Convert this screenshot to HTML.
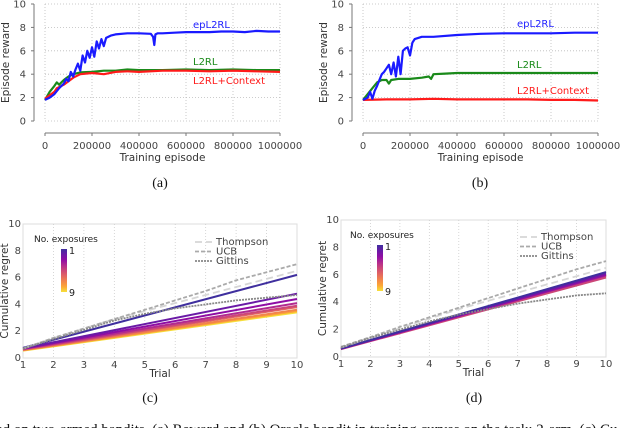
<!DOCTYPE html>
<html><head><meta charset="utf-8">
<style>
body{margin:0;background:#fff;width:640px;height:428px;overflow:hidden}
svg{display:block;font-family:"DejaVu Sans","Liberation Sans",sans-serif}
.tk{font-size:10px;fill:#444}
.lab{font-size:10.5px;fill:#333}
.cap{font-family:"Liberation Serif",serif;font-size:14px;fill:#111}
</style></head><body>
<svg id="fig" width="640" height="428" viewBox="0 0 640 428" xmlns="http://www.w3.org/2000/svg">
<g id="ga"></g>
<g id="gb"></g>
<g id="gc"></g>
<g id="gd"></g>
<text class="cap" x="150" y="402" text-anchor="middle">(c)</text>
<text class="cap" x="474" y="402" text-anchor="middle">(d)</text>
<text class="cap" x="160" y="187" text-anchor="middle">(a)</text>
<text class="cap" x="480" y="187" text-anchor="middle">(b)</text>
<text class="cap" x="-4" y="434" style="font-size:15px">ed on two-armed bandits. (a) Reward and (b) Oracle bandit in training curves on the task: 2-arm. (c) Cu</text>
</svg>
<script>
// ---- Data: panels (a) and (b) (x in thousands of episodes) ----
const epAx=[0,20,40,60,80,90,100,110,120,130,140,150,160,170,180,190,200,210,220,230,240,250,260,280,300,350,400,450,460,465,470,480,500,550,600,650,700,750,800,850,900,950,1000];
const epAy=[1.8,2.0,2.3,2.8,3.2,3.6,3.4,4.2,3.8,4.4,4.9,4.3,5.6,5.0,6.0,5.4,6.3,5.5,6.8,6.2,7.0,6.4,7.1,7.3,7.4,7.5,7.5,7.45,7.2,6.5,7.4,7.5,7.5,7.55,7.6,7.6,7.6,7.65,7.65,7.6,7.7,7.65,7.65];
const l2Ax=[0,20,40,50,60,80,100,120,150,200,250,300,350,400,500,600,700,800,900,1000];
const l2Ay=[1.8,2.5,3.0,3.3,3.1,3.5,3.8,4.0,4.15,4.2,4.3,4.3,4.4,4.35,4.35,4.4,4.35,4.4,4.35,4.35];
const ctxAy=[1.9,2.2,2.5,2.8,2.9,3.1,3.4,3.7,4.0,4.1,4.0,4.2,4.25,4.2,4.3,4.3,4.25,4.3,4.25,4.2];
const epBx=[0,20,30,40,50,60,70,80,90,100,110,120,130,140,150,160,170,180,190,200,210,220,250,300,400,500,600,700,800,900,1000];
const epBy=[1.8,2.0,2.5,1.9,2.6,3.0,3.5,4.0,4.2,4.5,4.8,4.0,5.0,3.8,5.5,4.0,6.0,6.2,6.3,5.6,6.7,7.0,7.2,7.2,7.35,7.45,7.5,7.5,7.5,7.55,7.55];
const l2Bx=[0,20,40,60,80,100,110,120,150,200,250,280,290,300,350,400,500,600,700,800,900,1000];
const l2By=[1.8,2.3,2.8,3.3,3.5,3.5,3.2,3.5,3.6,3.6,3.7,3.8,3.6,4.0,4.05,4.1,4.1,4.1,4.1,4.1,4.1,4.1];
const ctxBx=[0,100,200,300,400,500,600,700,800,900,1000];
const ctxBy=[1.8,1.85,1.85,1.9,1.85,1.85,1.85,1.85,1.8,1.8,1.75];
const xTicksAB=["0","200000","400000","600000","800000","1000000"];
const yTicksAB=["0","2","4","6","8","10"];
// ---- Data: panels (c) and (d) ----
const trials=[1,2,3,4,5,6,7,8,9,10];
const thomC=[0.7,1.5,2.2,2.9,3.5,4.1,4.7,5.3,5.9,6.5];
const ucbC=[0.7,1.5,2.2,2.9,3.6,4.3,5.0,5.8,6.4,7.0];
const gitC=[0.7,1.4,2.1,2.8,3.3,3.7,4.0,4.3,4.5,4.7];
const expStartC=[0.75,0.72,0.7,0.68,0.65,0.62,0.6,0.58,0.55];
const expEndC=[6.2,4.8,4.4,4.1,3.9,3.8,3.6,3.5,3.4];
const thomD=[0.7,1.4,2.1,2.8,3.5,4.1,4.7,5.3,5.9,6.5];
const ucbD=[0.75,1.45,2.2,2.9,3.6,4.3,5.0,5.7,6.4,7.0];
const gitD=[0.7,1.4,2.0,2.6,3.1,3.5,3.9,4.2,4.5,4.65];
const expStartD=[0.62,0.62,0.6,0.6,0.58,0.6,0.6,0.6,0.6];
const expEndD=[6.2,6.1,6.0,5.95,5.8,5.9,6.0,6.0,6.05];
const yTicksCD=["0","2","4","6","8","10"];
const plasma=["#3f2f9e","#6a1aa6","#8f0da4","#b12a90","#cc4778","#e16462","#f2844b","#fca636","#f6e03a"];

const NS="http://www.w3.org/2000/svg";
function mk(parent,tag,attrs){const e=document.createElementNS(NS,tag);for(const k in attrs)e.setAttribute(k,attrs[k]);parent.appendChild(e);return e;}
function pathD(xs,ys,sx,sy){return xs.map((x,i)=>(i?"L":"M")+sx(x).toFixed(1)+","+sy(ys[i]).toFixed(1)).join("");}

function panelAB(g,x0,x1,series,labels){
  const y0=121,y1=4;
  const sx=v=>x0+(x1-x0)*v/1000, sy=v=>y0+(y1-y0)*v/10;
  for(let i=0;i<=5;i++){
    let gl=mk(g,"line",{x1:sx(i*200),x2:sx(i*200),y1:y1,y2:y0,stroke:"#bbb","stroke-width":0.8,"stroke-dasharray":"1,2"});
    
    
    let hl=mk(g,"line",{x1:x0,x2:x1,y1:sy(i*2),y2:sy(i*2),stroke:"#bbb","stroke-width":0.8,"stroke-dasharray":"1,2"});
    
    
    let xt=mk(g,"text",{x:sx(i*200),y:149,"text-anchor":"middle",class:"tk"});xt.textContent=xTicksAB[i];
    
    
    mk(g,"line",{x1:sx(i*200),x2:sx(i*200),y1:133,y2:136,stroke:"#777"});
    let yt=mk(g,"text",{x:x0-19,y:sy(i*2)+3.5,"text-anchor":"end",class:"tk"});yt.textContent=yTicksAB[i];
    
    
    mk(g,"line",{x1:x0-14,x2:x0-11,y1:sy(i*2),y2:sy(i*2),stroke:"#777"});
  }
  let ya=mk(g,"line",{x1:x0-11,x2:x0-11,y1:y1,y2:y0,stroke:"#777","stroke-width":1});
  
  let xa=mk(g,"line",{x1:x0,x2:x1,y1:133,y2:133,stroke:"#777","stroke-width":1});
  
  let xl=mk(g,"text",{x:(x0+x1)/2,y:161,"text-anchor":"middle",class:"lab"});xl.textContent="Training episode";
  
  let yl=mk(g,"text",{x:0,y:0,"text-anchor":"middle",class:"lab",transform:`translate(${x0-36},${(y0+y1)/2}) rotate(-90)`});yl.textContent="Episode reward";
  
  series.forEach(s=>{
    let p=mk(g,"path",{d:pathD(s.x,s.y,sx,sy),fill:"none",stroke:s.c,"stroke-width":2.2,"stroke-linejoin":"round"});
    
  });
  labels.forEach(l=>{
    let t=mk(g,"text",{x:l.x,y:l.y,class:"tk",style:"fill:"+l.c+";font-size:10px"});t.textContent=l.t;
    
  });
}
panelAB(document.getElementById("ga"),45,280,[
  {x:l2Ax,y:l2Ay,c:"#1a8a1a",n:"l2rl-line"},
  {x:l2Ax,y:ctxAy,c:"#ff1a1a",n:"l2rl-context-line"},
  {x:epAx,y:epAy,c:"#1a1aff",n:"epl2rl-line"}],
  [{x:193,y:28,t:"epL2RL",c:"#2222ff",n:"epl2rl-label"},{x:193,y:65,t:"L2RL",c:"#1a8a1a",n:"l2rl-label"},{x:193,y:84,t:"L2RL+Context",c:"#ff1a1a",n:"l2rl-context-label"}]);
panelAB(document.getElementById("gb"),363,598,[
  {x:l2Bx,y:l2By,c:"#1a8a1a",n:"l2rl-line"},
  {x:ctxBx,y:ctxBy,c:"#ff1a1a",n:"l2rl-context-line"},
  {x:epBx,y:epBy,c:"#1a1aff",n:"epl2rl-line"}],
  [{x:517,y:27,t:"epL2RL",c:"#2222ff",n:"epl2rl-label"},{x:517,y:68,t:"L2RL",c:"#1a8a1a",n:"l2rl-label"},{x:517,y:94,t:"L2RL+Context",c:"#ff1a1a",n:"l2rl-context-label"}]);

function panelCD(g,x0,x1,y0,y1,thom,ucb,git,es,ee,leg,gid){
  const sx=v=>x0+(x1-x0)*(v-1)/9, sy=v=>y0+(y1-y0)*v/10;
  let fr=mk(g,"rect",{x:x0,y:y1,width:x1-x0,height:y0-y1,fill:"none",stroke:"#ddd","stroke-width":1});
  
  trials.forEach(t=>{
    if(t>1&&t<10){let gl=mk(g,"line",{x1:sx(t),x2:sx(t),y1:y1,y2:y0,stroke:"#ccc","stroke-width":0.8,"stroke-dasharray":"1,2"});
      }
    let xt=mk(g,"text",{x:sx(t),y:y0+10,"text-anchor":"middle",class:"tk"});xt.textContent=t;
    
  });
  yTicksCD.forEach((v,i)=>{
    let yt=mk(g,"text",{x:x0-2,y:sy(i*2)+3,"text-anchor":"end",class:"tk"});yt.textContent=v;
    
  });
  let xl=mk(g,"text",{x:(x0+x1)/2,y:y0+19,"text-anchor":"middle",class:"lab"});xl.textContent="Trial";
  
  let yl=mk(g,"text",{x:0,y:0,"text-anchor":"middle",class:"lab",transform:`translate(${x0-15},${(y0+y1)/2}) rotate(-90)`});yl.textContent="Cumulative regret";
  
  for(let k=es.length-1;k>=0;k--){
    let p=mk(g,"path",{d:pathD([1,10],[es[k],ee[k]],sx,sy),fill:"none",stroke:plasma[k],"stroke-width":2});
    
  }
  const st=[{y:thom,c:"#d6d6d6",d:"7,4",n:"thompson",t:"Thompson"},{y:ucb,c:"#aaa",d:"4,2",n:"ucb",t:"UCB"},{y:git,c:"#888",d:"2,1",n:"gittins",t:"Gittins"}];
  st.forEach((s,i)=>{
    let p=mk(g,"path",{d:pathD(trials,s.y,sx,sy),fill:"none",stroke:s.c,"stroke-width":1.8,"stroke-dasharray":s.d});
    
    let ll=mk(g,"line",{x1:leg.lx,x2:leg.lx+17,y1:leg.ly+i*9.5-3,y2:leg.ly+i*9.5-3,stroke:s.c,"stroke-width":1.8,"stroke-dasharray":s.d});
    
    let lt=mk(g,"text",{x:leg.lx+21,y:leg.ly+i*9.5,class:"tk"});lt.textContent=s.t;
    
  });
  let defs=mk(g,"defs",{});
  let lg=mk(defs,"linearGradient",{id:gid,x1:0,y1:0,x2:0,y2:1});
  plasma.forEach((c,i)=>mk(lg,"stop",{offset:i/8,"stop-color":c}));
  let ct=mk(g,"text",{x:leg.cx-27,y:leg.cy-7,class:"tk",style:"font-size:9px;fill:#222"});ct.textContent="No. exposures";
  
  let cb=mk(g,"rect",{x:leg.cx,y:leg.cy,width:6,height:leg.ch,fill:`url(#${gid})`});
  
  let c1=mk(g,"text",{x:leg.cx+8,y:leg.cy+5,class:"tk",style:"font-size:9.5px;fill:#222"});c1.textContent="1";
  
  let c9=mk(g,"text",{x:leg.cx+8,y:leg.cy+leg.ch+4,class:"tk",style:"font-size:9.5px;fill:#222"});c9.textContent="9";
  
}
panelCD(document.getElementById("gc"),23,297,358,224,thomC,ucbC,gitC,expStartC,expEndC,{lx:195,ly:245,cx:61,cy:249,ch:43},"gradC");
panelCD(document.getElementById("gd"),341,606,357,220,thomD,ucbD,gitD,expStartD,expEndD,{lx:520,ly:240,cx:377,cy:245,ch:46},"gradD");
</script>
</body></html>
